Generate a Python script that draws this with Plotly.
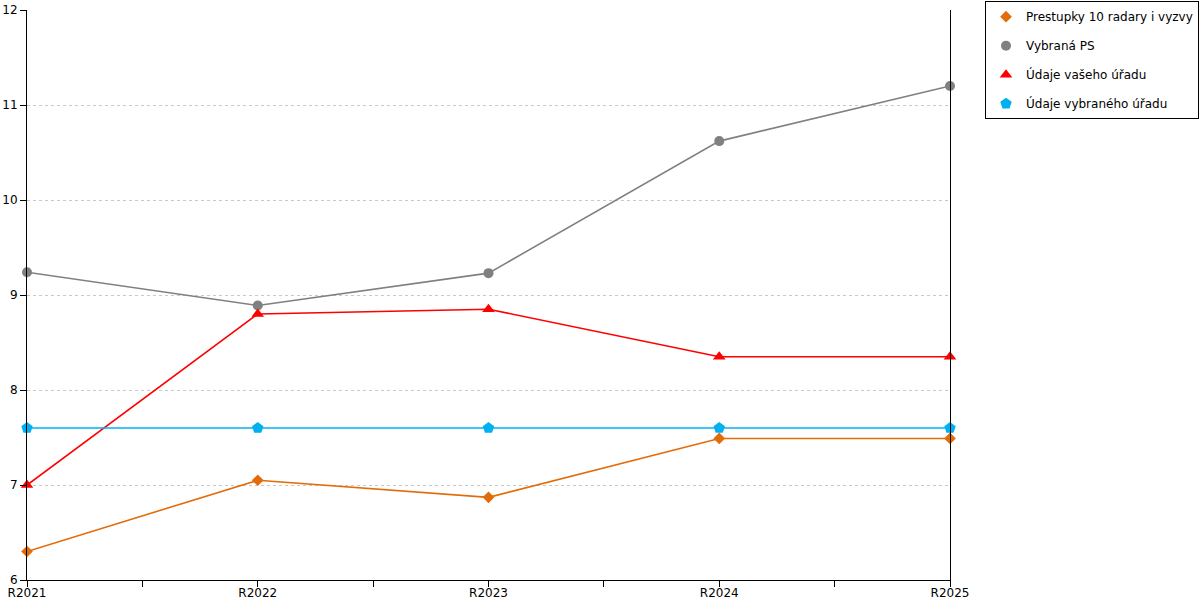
import plotly.graph_objects as go

years = ["R2021", "R2022", "R2023", "R2024", "R2025"]
prestupky = [6.30, 7.05, 6.87, 7.49, 7.49]
vybrana_ps = [9.24, 8.89, 9.23, 10.62, 11.20]
vas_urad = [7.00, 8.80, 8.85, 8.35, 8.35]
vybrany_urad = [7.60, 7.60, 7.60, 7.60, 7.60]

series = [
    ("Prestupky 10 radary i vyzvy", prestupky, "#e36c0a", "diamond", 9),
    ("Vybraná PS", vybrana_ps, "#808080", "circle", 10),
    ("Údaje vašeho úřadu", vas_urad, "#ff0000", "triangle-up", 11),
    ("Údaje vybraného úřadu", vybrany_urad, "#00b0f0", "pentagon", 12),
]

xs = list(range(len(years)))

fig = go.Figure()
for i, (name, vals, color, symbol, size) in enumerate(series):
    fig.add_trace(
        go.Scatter(
            x=xs,
            y=vals,
            mode="lines+markers",
            name=name,
            showlegend=False,
            line=dict(color=color, width=1.6),
            marker=dict(color=color, symbol=symbol, size=size),
            cliponaxis=False,
        )
    )
    # legend entry: marker only, like the original chart
    fig.add_trace(
        go.Scatter(
            x=[None],
            y=[None],
            mode="markers",
            name=name,
            legendgroup=str(i),
            marker=dict(color=color, symbol=symbol, size=size),
        )
    )

fig.update_layout(
    width=1200,
    height=600,
    margin=dict(l=27, r=250, t=10, b=20),
    plot_bgcolor="white",
    paper_bgcolor="white",
    font=dict(family="DejaVu Sans", size=12, color="black"),
    showlegend=True,
    legend=dict(
        xref="container",
        yref="container",
        x=985 / 1200,
        y=0.998,
        xanchor="left",
        yanchor="top",
        bordercolor="black",
        borderwidth=1,
        tracegroupgap=10,
        itemwidth=30,
        font=dict(size=12),
    ),
    xaxis=dict(
        range=[0, 4],
        tickvals=xs,
        ticktext=years,
        ticks="outside",
        ticklen=6,
        tickcolor="black",
        ticklabelstandoff=-4,
        showline=True,
        linecolor="black",
        linewidth=1,
        showgrid=False,
        zeroline=False,
        automargin=False,
        minor=dict(tickvals=[0.5, 1.5, 2.5, 3.5], ticks="outside", ticklen=6, tickcolor="black"),
    ),
    yaxis=dict(
        range=[6, 12],
        dtick=1,
        ticks="outside",
        ticklen=6,
        tickcolor="black",
        showline=True,
        linecolor="black",
        linewidth=1,
        mirror=True,
        showgrid=True,
        gridcolor="#c8c8c8",
        griddash="dot",
        zeroline=False,
        automargin=False,
    ),
)

# the page body has a default 8px margin; drop it so the chart fills the window
fig.write_html(
    "out.html",
    config={"displayModeBar": False},
    post_script="document.body.style.margin='0px';",
)
